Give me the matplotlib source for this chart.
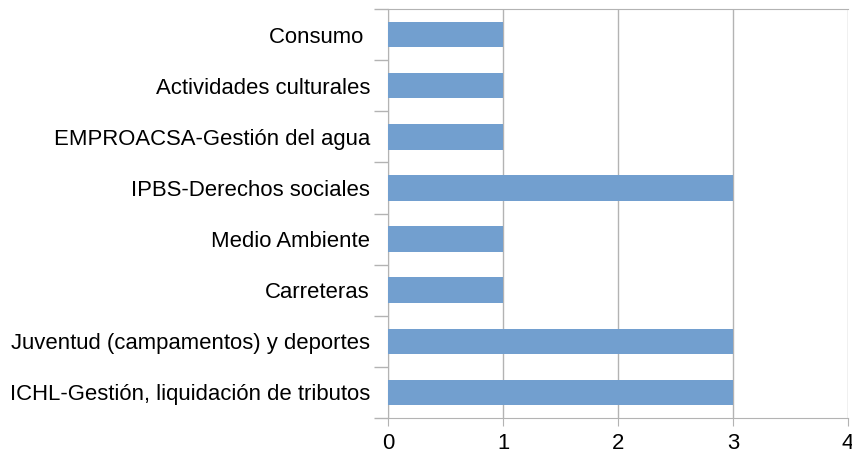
import matplotlib.pyplot as plt
import numpy as np

categories = [
    "Consumo ",
    "Actividades culturales",
    "EMPROACSA-Gestión del agua",
    "IPBS-Derechos sociales",
    "Medio Ambiente",
    "Carreteras",
    "Juventud (campamentos) y deportes",
    "ICHL-Gestión, liquidación de tributos",
]
values = [1, 1, 1, 3, 1, 1, 3, 3]

plt.rcParams['font.family'] = ['Liberation Sans', 'DejaVu Sans']
grid_col = '#b3b3b3'

fig = plt.figure(figsize=(8.53, 4.59), dpi=100)
ax = fig.add_axes([0.4549, 0.0893, 0.5392, 0.8911])

y = np.arange(len(categories))
ax.barh(y, values, height=0.5, color='#729fcf', zorder=3)

ax.set_xlim(0, 4)
ax.set_ylim(len(categories) - 0.5, -0.5)
ax.set_xticks([0, 1, 2, 3, 4])
ax.set_yticks(y)
ax.set_yticklabels(categories)
ax.set_yticks(np.arange(len(categories) + 1) - 0.5, minor=True)

ax.grid(axis='x', color=grid_col, linewidth=1, zorder=0)
for s in ax.spines.values():
    s.set_color(grid_col)
ax.spines['right'].set_visible(False)

ax.tick_params(axis='y', which='major', length=0, pad=13, labelsize=15.9)
ax.tick_params(axis='y', which='minor', length=10, color=grid_col, width=1)
ax.tick_params(axis='x', length=6, color=grid_col, labelsize=15.9, pad=5)

fig.savefig('out.png', dpi=100)
